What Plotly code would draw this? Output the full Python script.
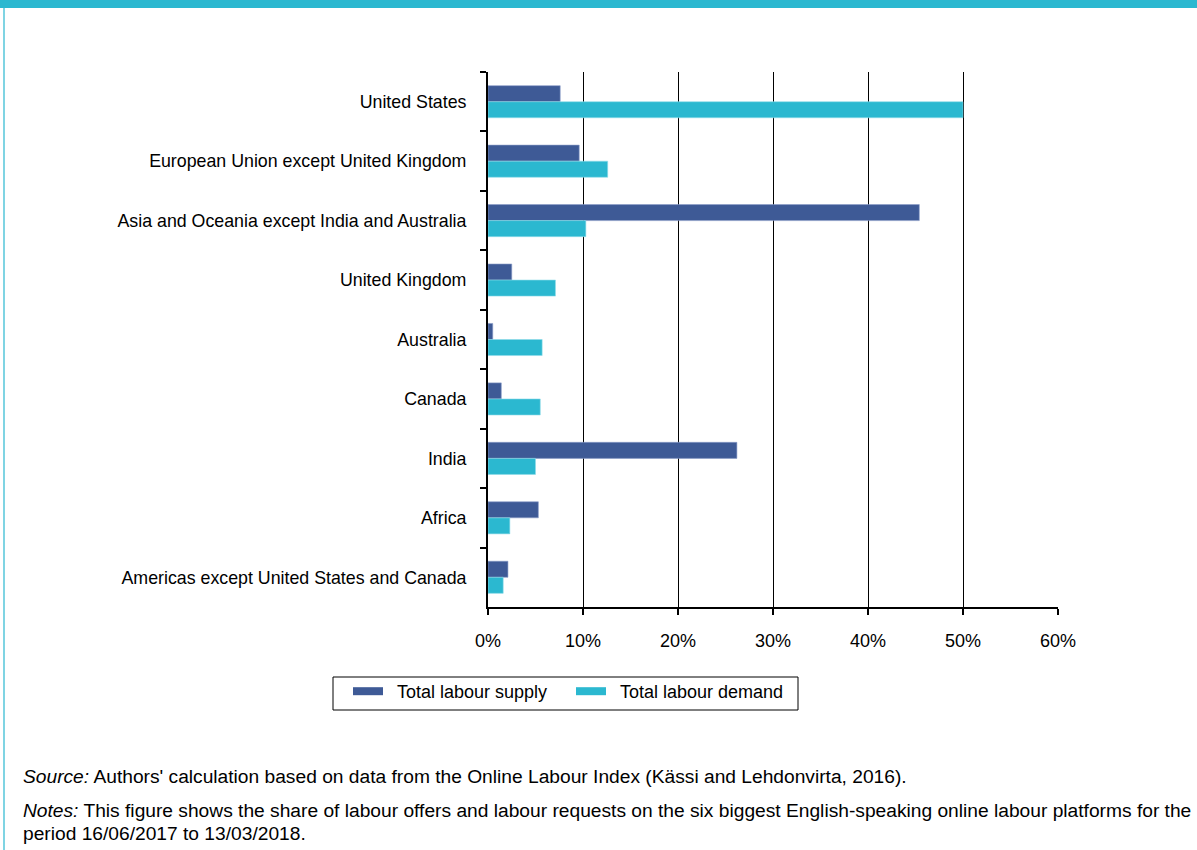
import plotly.graph_objects as go

categories = [
    "United States",
    "European Union except United Kingdom",
    "Asia and Oceania except India and Australia",
    "United Kingdom",
    "Australia",
    "Canada",
    "India",
    "Africa",
    "Americas except United States and Canada",
]
supply = [0.076, 0.096, 0.454, 0.025, 0.005, 0.014, 0.262, 0.053, 0.021]
demand = [0.500, 0.126, 0.103, 0.071, 0.057, 0.055, 0.050, 0.023, 0.016]
x_ticks = [0, 0.1, 0.2, 0.3, 0.4, 0.5, 0.6]
series_names = ["Total labour supply", "Total labour demand"]

W, H = 1197, 850
L, R, T, B = 488, 1058, 72, 607
PW, PH = R - L, B - T


def px(x):
    return (x - L) / PW


def py(y):
    return (B - y) / PH


FONT = "Liberation Sans, Arial, Helvetica, sans-serif"
SUPPLY_C = "#3E5A96"
DEMAND_C = "#2BB8D0"

fig = go.Figure()
fig.add_trace(go.Bar(
    y=categories, x=supply, orientation="h", name=series_names[0],
    marker=dict(color=SUPPLY_C, line=dict(color="#8A9CC8", width=0.6)),
    showlegend=False,
))
fig.add_trace(go.Bar(
    y=categories, x=demand, orientation="h", name=series_names[1],
    marker=dict(color=DEMAND_C, line=dict(color="#8EDCEA", width=0.6)),
    showlegend=False,
))
# legend-only entries drawn as wide bars (line swatches)
for nm, col in zip(series_names, [SUPPLY_C, DEMAND_C]):
    fig.add_trace(go.Scatter(
        x=[None], y=[None], mode="lines", name="\u2002" + nm,
        line=dict(color=col, width=8), hoverinfo="skip",
    ))

fig.update_layout(
    width=W, height=H,
    margin=dict(l=L, r=W - R, t=T, b=H - B, autoexpand=False),
    paper_bgcolor="white", plot_bgcolor="white",
    font=dict(family=FONT, size=18, color="black"),
    barmode="group", bargap=0.46, bargroupgap=0,
    showlegend=True,
    legend=dict(
        orientation="h", x=px(348), xanchor="left", y=py(673), yanchor="top",
        borderwidth=0, bgcolor="rgba(0,0,0,0)",
        font=dict(size=18), entrywidth=178, entrywidthmode="pixels",
        traceorder="normal", itemclick=False,
    ),
    xaxis=dict(
        range=[0, 0.6], tickvals=x_ticks, tickformat=".0%",
        showgrid=True, gridcolor="black", gridwidth=1,
        showline=True, linecolor="black", linewidth=2,
        ticks="outside", ticklen=6, tickwidth=2, tickcolor="black",
        zeroline=False, ticklabelstandoff=10,
        tickfont=dict(size=18),
    ),
    yaxis=dict(
        autorange="reversed", type="category",
        showline=True, linecolor="black", linewidth=2,
        ticks="outside", tickson="boundaries", ticklen=6, tickwidth=2,
        tickcolor="black", showgrid=False, ticklabelstandoff=16,
        tickfont=dict(size=17.8),
    ),
)

# legend frame
fig.add_shape(type="rect", xref="paper", yref="paper",
              x0=px(333), x1=px(798), y0=py(710), y1=py(677),
              line=dict(color="black", width=1), fillcolor="rgba(0,0,0,0)",
              layer="below")
# top band and left border
fig.add_shape(type="rect", xref="paper", yref="paper",
              x0=px(0), x1=px(W), y0=py(0), y1=py(8),
              fillcolor=DEMAND_C, line=dict(width=0), layer="above")
fig.add_shape(type="line", xref="paper", yref="paper",
              x0=px(4), x1=px(4), y0=py(8), y1=py(H),
              line=dict(color="#55C6DA", width=1.5))

NOTE_SIZE = 19.2
fig.add_annotation(xref="paper", yref="paper", x=px(21), y=py(776),
                   xanchor="left", yanchor="middle", showarrow=False,
                   align="left",
                   text="<i>Source:</i> Authors' calculation based on data from the Online Labour Index (Kässi and Lehdonvirta, 2016).",
                   font=dict(size=NOTE_SIZE))
fig.add_annotation(xref="paper", yref="paper", x=px(21), y=py(810),
                   xanchor="left", yanchor="middle", showarrow=False,
                   align="left",
                   text="<i>Notes:</i> This figure shows the share of labour offers and labour requests on the six biggest English-speaking online labour platforms for the",
                   font=dict(size=NOTE_SIZE))
fig.add_annotation(xref="paper", yref="paper", x=px(21), y=py(833),
                   xanchor="left", yanchor="middle", showarrow=False,
                   align="left",
                   text="period 16/06/2017 to 13/03/2018.",
                   font=dict(size=NOTE_SIZE))

fig.write_html(
    "out.html",
    config={"displayModeBar": False},
    post_script="document.body.style.margin='0';document.body.style.overflow='hidden';",
)
